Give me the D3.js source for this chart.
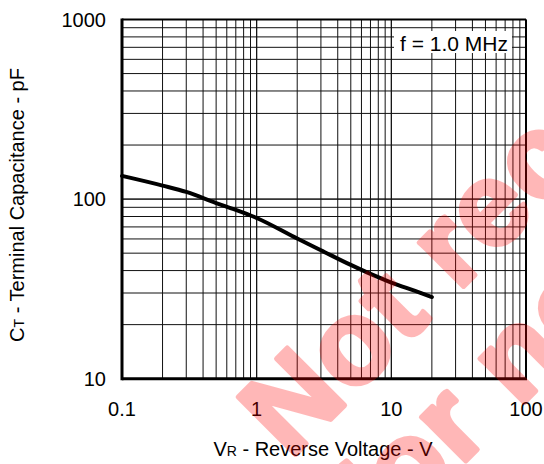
<!DOCTYPE html>
<html>
<head>
<meta charset="utf-8">
<script src="https://cdn.jsdelivr.net/npm/d3@7"></script>
<style>
  body { margin: 0; background: #fff; }
  svg { display: block; font-family: Arial, "Liberation Sans", sans-serif; }
</style>
</head>
<body>
<div id="chart"></div>
<script>
// data
const voltage = [0.1, 0.2, 0.3, 0.5, 0.7, 1, 2, 3, 5, 7, 10, 15, 20];
const capacitance = [134.6, 118.9, 109.6, 95, 87.1, 78.5, 60.3, 51.9, 43, 38.3, 34.3, 30.8, 28.5];
const xTickLabels = [0.1, 1, 10, 100];
const yTickLabels = [10, 100, 1000];
const legendText = 'f = 1.0 MHz';
const watermarkLines = ['Not recommended', 'for new design'];

const width = 544, height = 464;
const margin = { top: 19.5, right: 18, bottom: 85.3, left: 122 };

const svg = d3.select('#chart').append('svg')
  .attr('width', width)
  .attr('height', height);

// log scales on both axes
const x = d3.scaleLog().domain([0.1, 100]).range([margin.left, width - margin.right]);
const y = d3.scaleLog().domain([10, 1000]).range([height - margin.bottom, margin.top]);

// grid values: every 1..9 step of each decade
const xGrid = [];
[0.1, 1, 10].forEach(d => { for (let k = 1; k <= 10; k++) xGrid.push(d * k); });
const yGrid = [];
[10, 100].forEach(d => { for (let k = 1; k <= 10; k++) yGrid.push(d * k); });

const grid = svg.append('g').attr('stroke', '#111').attr('stroke-width', 1);
grid.selectAll('.vx').data(xGrid).enter().append('line')
  .attr('x1', d => x(d)).attr('x2', d => x(d))
  .attr('y1', y(1000)).attr('y2', y(10));
grid.selectAll('.hy').data(yGrid).enter().append('line')
  .attr('y1', d => y(d)).attr('y2', d => y(d))
  .attr('x1', x(0.1)).attr('x2', x(100));

// frame: left and bottom heavier
svg.append('line').attr('x1', x(0.1)).attr('x2', x(100)).attr('y1', y(1000)).attr('y2', y(1000))
  .attr('stroke', '#000').attr('stroke-width', 2);
svg.append('line').attr('x1', x(100)).attr('x2', x(100)).attr('y1', y(1000)).attr('y2', y(10))
  .attr('stroke', '#000').attr('stroke-width', 2);
svg.append('line').attr('x1', x(0.1)).attr('x2', x(0.1)).attr('y1', y(1000) - 1).attr('y2', y(10) + 1.5)
  .attr('stroke', '#000').attr('stroke-width', 3);
svg.append('line').attr('x1', x(0.1)).attr('x2', x(100) + 1).attr('y1', y(10)).attr('y2', y(10))
  .attr('stroke', '#000').attr('stroke-width', 3);

// curve
const line = d3.line()
  .x(d => x(d[0]))
  .y(d => y(d[1]))
  .curve(d3.curveMonotoneX);
svg.append('path')
  .datum(voltage.map((v, i) => [v, capacitance[i]]))
  .attr('d', line)
  .attr('fill', 'none')
  .attr('stroke', '#000')
  .attr('stroke-width', 4)
  .attr('stroke-linecap', 'round');

// legend box
const lg = svg.append('g');
lg.append('rect')
  .attr('x', 394).attr('y', 31).attr('width', 118).attr('height', 22)
  .attr('fill', '#fff');
lg.append('text')
  .attr('x', 454).attr('y', 50.5)
  .attr('text-anchor', 'middle')
  .attr('font-size', 21)
  .attr('fill', '#000')
  .text(legendText);

// tick labels
svg.append('g').selectAll('text').data(xTickLabels).enter().append('text')
  .attr('x', d => x(d)).attr('y', 416)
  .attr('text-anchor', 'middle')
  .attr('font-size', 20)
  .text(d => d);
svg.append('g').selectAll('text').data(yTickLabels).enter().append('text')
  .attr('x', 106).attr('y', d => y(d))
  .attr('dy', '0.36em')
  .attr('text-anchor', 'end')
  .attr('font-size', 20)
  .text(d => d);

// axis titles
const xt = svg.append('text')
  .attr('x', 323).attr('y', 456)
  .attr('text-anchor', 'middle')
  .attr('font-size', 20);
xt.append('tspan').text('V');
xt.append('tspan').attr('font-size', 14).text('R');
xt.append('tspan').text(' - Reverse Voltage - V');

const yt = svg.append('text')
  .attr('transform', 'translate(24,205) rotate(-90)')
  .attr('text-anchor', 'middle')
  .attr('font-size', 20);
yt.append('tspan').text('C');
yt.append('tspan').attr('font-size', 14).text('T');
yt.append('tspan').text(' - Terminal Capacitance - pF');

// watermark (group opacity so the thickening stroke doesn't double up)
const wm = svg.append('g')
  .attr('transform', 'translate(290,460) rotate(-45)')
  .attr('opacity', 0.28)
  .attr('fill', '#ff0000')
  .attr('stroke', '#ff0000')
  .attr('stroke-width', 5)
  .attr('stroke-linejoin', 'round')
  .attr('font-weight', 'bold')
  .attr('font-size', 118);
wm.selectAll('text').data(watermarkLines).enter().append('text')
  .attr('x', 0)
  .attr('y', (d, i) => i * 125)
  .attr('letter-spacing', 2)
  .text(d => d);
</script>
</body>
</html>
